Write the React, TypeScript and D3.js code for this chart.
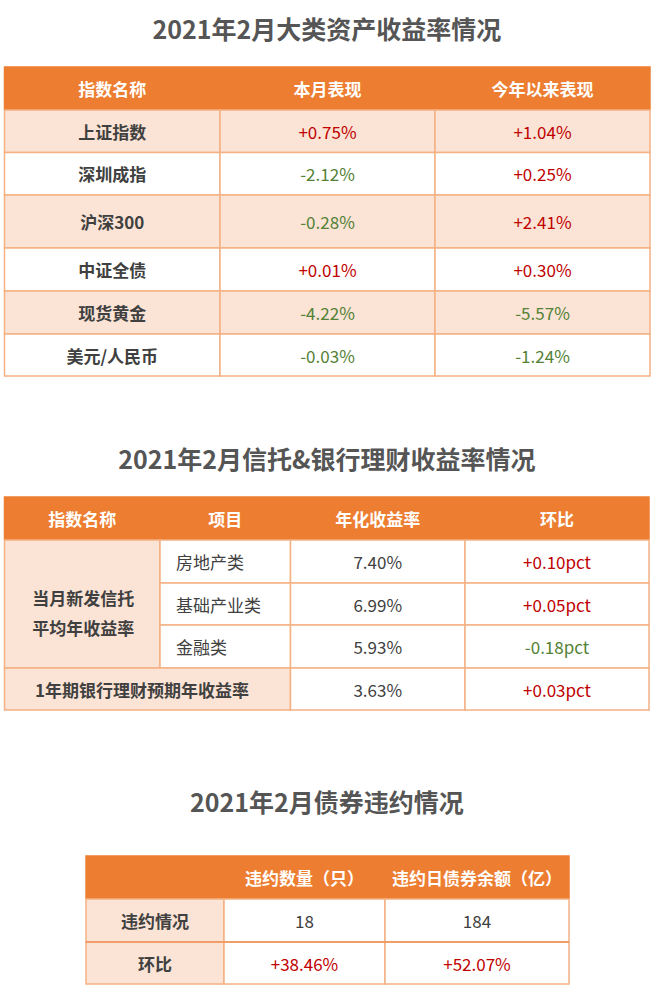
import React, { useEffect, useRef } from "react";
import * as d3 from "d3";

// ---- data ----
const titles = ["2021年2月大类资产收益率情况", "2021年2月信托&银行理财收益率情况", "2021年2月债券违约情况"];

const assetHeaders = ["指数名称", "本月表现", "今年以来表现"];
const assetNames = ["上证指数", "深圳成指", "沪深300", "中证全债", "现货黄金", "美元/人民币"];
const monthChange = ["+0.75%", "-2.12%", "-0.28%", "+0.01%", "-4.22%", "-0.03%"];
const ytdChange = ["+1.04%", "+0.25%", "+2.41%", "+0.30%", "-5.57%", "-1.24%"];

const trustHeaders = ["指数名称", "项目", "年化收益率", "环比"];
const trustGroup = ["当月新发信托", "平均年收益率"];
const trustItems = ["房地产类", "基础产业类", "金融类"];
const trustYield = ["7.40%", "6.99%", "5.93%"];
const trustDelta = ["+0.10pct", "+0.05pct", "-0.18pct"];
const bankLabel = "1年期银行理财预期年收益率";
const bankYield = "3.63%";
const bankDelta = "+0.03pct";

const bondHeaders = ["", "违约数量（只）", "违约日债券余额（亿）"];
const bondRows = ["违约情况", "环比"];
const bondCount = ["18", "+38.46%"];
const bondAmount = ["184", "+52.07%"];

// ---- styles ----
const ORANGE = "#ED7D31";
const PEACH = "#FBE4D5";
const LINE = "#F4B183";
const DARK = "#404040";
const RED = "#C00000";
const GREEN = "#538135";
const FONT = "'Noto Sans CJK SC', 'Noto Sans', sans-serif";

const signColor = (s: string) => (s.startsWith("+") ? RED : s.startsWith("-") ? GREEN : DARK);

export default function App() {
  const ref = useRef<SVGSVGElement>(null);

  useEffect(() => {
    const svg = d3.select(ref.current);
    svg.selectAll("*").remove();

    const cell = (x0: number, x1: number, y0: number, y1: number, fill: string, stroke = LINE) => {
      svg.append("rect")
        .attr("x", x0).attr("y", y0)
        .attr("width", x1 - x0).attr("height", y1 - y0)
        .attr("fill", fill)
        .attr("stroke", stroke)
        .attr("stroke-width", 1.5);
    };
    const text = (x: number, y: number, s: string, color: string, bold: boolean, anchor = "middle", size = 17) => {
      svg.append("text")
        .attr("x", x).attr("y", y)
        .attr("text-anchor", anchor)
        .attr("dominant-baseline", "central")
        .style("font-family", FONT)
        .style("font-size", `${size}px`)
        .style("font-weight", bold ? 700 : 400)
        .attr("fill", color)
        .text(s);
    };
    const header = (x0: number, x1: number, y0: number, y1: number) => {
      svg.append("rect")
        .attr("x", x0 - 0.75).attr("y", y0 - 0.75)
        .attr("width", x1 - x0 + 1.5).attr("height", y1 - y0 + 0.75)
        .attr("fill", ORANGE);
    };

    // titles
    const titleY = [28, 458, 801];
    titles.forEach((t, i) => text(327, titleY[i], t, "#555555", true, "middle", 25));

    // ---- table 1 ----
    const ax = [4.5, 220, 435, 650];
    const ay = [67, 110, 152.5, 195, 248, 291, 334, 376];
    const aRow = d3.scaleOrdinal<number, number>().domain(d3.range(assetNames.length)).range(ay.slice(1));
    header(ax[0], ax[3], ay[0], ay[1]);
    assetHeaders.forEach((h, i) => text((ax[i] + ax[i + 1]) / 2, (ay[0] + ay[1]) / 2, h, "#fff", true));
    assetNames.forEach((name, i) => {
      const y0 = aRow(i), y1 = ay[i + 2];
      const fill = i % 2 === 0 ? PEACH : "#fff";
      [0, 1, 2].forEach((c) => cell(ax[c], ax[c + 1], y0, y1, fill));
      const cy = (y0 + y1) / 2;
      text((ax[0] + ax[1]) / 2, cy, name, DARK, true);
      text((ax[1] + ax[2]) / 2, cy, monthChange[i], signColor(monthChange[i]), false);
      text((ax[2] + ax[3]) / 2, cy, ytdChange[i], signColor(ytdChange[i]), false);
    });

    // ---- table 2 ----
    const tx = [4.5, 160, 290.5, 465, 649];
    const ty = [497, 540, 583, 625, 668, 710];
    header(tx[0], tx[4], ty[0], ty[1]);
    trustHeaders.forEach((h, i) => text((tx[i] + tx[i + 1]) / 2, (ty[0] + ty[1]) / 2, h, "#fff", true));
    cell(tx[0], tx[1], ty[1], ty[4], PEACH);
    trustGroup.forEach((g, i) => text((tx[0] + tx[1]) / 2 + 1, 597 + i * 30, g, DARK, true));
    trustItems.forEach((item, i) => {
      const y0 = ty[i + 1], y1 = ty[i + 2], cy = (y0 + y1) / 2;
      cell(tx[1], tx[2], y0, y1, "#fff");
      cell(tx[2], tx[3], y0, y1, "#fff");
      cell(tx[3], tx[4], y0, y1, "#fff");
      text(tx[1] + 16, cy, item, DARK, false, "start");
      text((tx[2] + tx[3]) / 2, cy, trustYield[i], DARK, false);
      text((tx[3] + tx[4]) / 2, cy, trustDelta[i], signColor(trustDelta[i]), false);
    });
    {
      const y0 = ty[4], y1 = ty[5], cy = (y0 + y1) / 2;
      cell(tx[0], tx[2], y0, y1, PEACH);
      cell(tx[2], tx[3], y0, y1, "#fff");
      cell(tx[3], tx[4], y0, y1, "#fff");
      text(142, cy, bankLabel, DARK, true);
      text((tx[2] + tx[3]) / 2, cy, bankYield, DARK, false);
      text((tx[3] + tx[4]) / 2, cy, bankDelta, signColor(bankDelta), false);
    }

    // ---- table 3 ----
    const bx = [86, 224, 385, 569];
    const by = [856, 899, 942, 984];
    header(bx[0], bx[3], by[0], by[1]);
    bondHeaders.forEach((h, i) => text((bx[i] + bx[i + 1]) / 2, (by[0] + by[1]) / 2, h, "#fff", true));
    bondRows.forEach((r, i) => {
      const y0 = by[i + 1], y1 = by[i + 2], cy = (y0 + y1) / 2;
      cell(bx[0], bx[1], y0, y1, PEACH);
      cell(bx[1], bx[2], y0, y1, "#fff");
      cell(bx[2], bx[3], y0, y1, "#fff");
      text((bx[0] + bx[1]) / 2, cy, r, DARK, true);
      text((bx[1] + bx[2]) / 2, cy, bondCount[i], signColor(bondCount[i]), false);
      text((bx[2] + bx[3]) / 2, cy, bondAmount[i], signColor(bondAmount[i]), false);
    });
    svg.append("line")
      .attr("x1", bx[0]).attr("x2", bx[3])
      .attr("y1", by[2]).attr("y2", by[2])
      .attr("stroke", "#F0955A").attr("stroke-width", 1.5);
  }, []);

  return (
    <svg ref={ref} width={656} height={993} style={{ position: "absolute", left: 0, top: 0, background: "#fff" }} />
  );
}
